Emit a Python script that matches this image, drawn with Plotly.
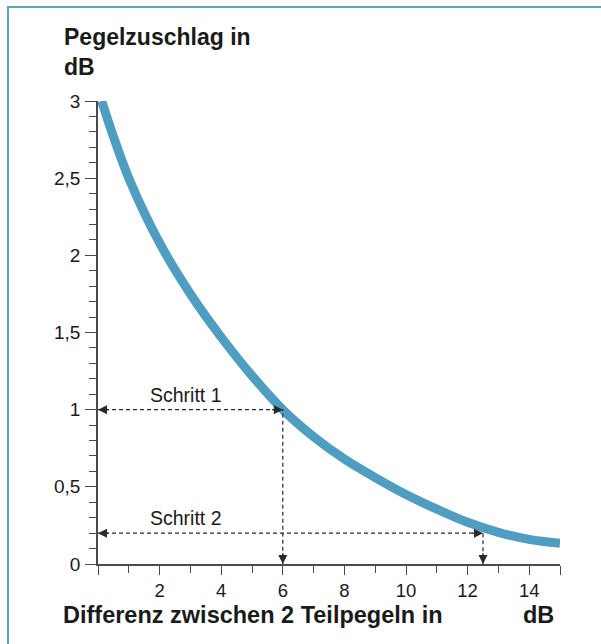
import plotly.graph_objects as go

# Data
diff_db = [0.12, 0.5, 1.0, 2.0, 3.0, 4.0, 5.0, 6.0, 7.0, 8.0, 9.0, 10.0, 11.0, 12.0, 13.0, 14.0, 15.0]
zuschlag_db = [3.0, 2.77, 2.5, 2.08, 1.75, 1.47, 1.22, 1.0, 0.825, 0.68, 0.56, 0.45, 0.355, 0.27, 0.205, 0.16, 0.135]

x_tickvals = [0, 2, 4, 6, 8, 10, 12, 14, 15]
x_ticktext = ["", "2", "4", "6", "8", "10", "12", "14", ""]
y_tickvals = [0, 0.5, 1, 1.5, 2, 2.5, 3]
y_ticktext = ["0", "0,5", "1", "1,5", "2", "2,5", "3"]

step1_x, step1_y = 6, 1.0
step2_x, step2_y = 12.5, 0.2

W, H = 601, 644
ML, MR, MT, MB = 98, 41, 101, 80
PW, PH = W - ML - MR, H - MT - MB

def px(xp):
    return (xp - ML) / PW

def py(yp):
    return (H - MB - yp) / PH

FONT = "Liberation Sans, Arial, sans-serif"
DASH_COL = "#2a2a2a"
TXT = "#1a1a1a"
AX = "#4a4a4a"

fig = go.Figure()

fig.add_trace(go.Scatter(
    x=diff_db, y=zuschlag_db, mode="lines",
    line=dict(color="#4f9dc0", width=9, shape="spline", smoothing=1.0),
    hoverinfo="skip", showlegend=False))

# dashed guide lines
for (gx, gy) in [(step1_x, step1_y), (step2_x, step2_y)]:
    fig.add_trace(go.Scatter(x=[0, gx, gx], y=[gy, gy, 0], mode="lines",
                             line=dict(color=DASH_COL, width=1.2, dash="4px,3px"),
                             hoverinfo="skip", showlegend=False, cliponaxis=False))

annotations = []
def arrow(xt, yt, xa, ya):
    annotations.append(dict(x=xt, y=yt, ax=xa, ay=ya, xref="x", yref="y",
                            axref="x", ayref="y", text="", showarrow=True,
                            arrowhead=2, arrowsize=1.5, arrowwidth=1.2,
                            arrowcolor=DASH_COL, standoff=0))

for (gx, gy) in [(step1_x, step1_y), (step2_x, step2_y)]:
    arrow(0, gy, 0.4, gy)
    arrow(gx, gy, gx - 0.4, gy)
    arrow(gx, 0, gx, 0.08)

annotations.append(dict(x=2.86, y=1.095, xref="x", yref="y", text="Schritt 1",
                        showarrow=False, font=dict(size=19.5, color=TXT, family=FONT)))
annotations.append(dict(x=2.86, y=0.298, xref="x", yref="y", text="Schritt 2",
                        showarrow=False, font=dict(size=19.5, color=TXT, family=FONT)))

annotations.append(dict(x=px(62), y=py(22), xref="paper", yref="paper",
                        xanchor="left", yanchor="top", align="left",
                        text="<b>Pegelzuschlag in</b><br><b>dB</b>", showarrow=False,
                        font=dict(size=23, color=TXT, family=FONT)))
annotations.append(dict(x=px(61), y=py(615), xref="paper", yref="paper",
                        xanchor="left", yanchor="middle",
                        text="<b>Differenz zwischen 2 Teilpegeln in</b>", showarrow=False,
                        font=dict(size=23.5, color=TXT, family=FONT)))
annotations.append(dict(x=px(521), y=py(615), xref="paper", yref="paper",
                        xanchor="left", yanchor="middle",
                        text="<b>dB</b>", showarrow=False,
                        font=dict(size=23.5, color=TXT, family=FONT)))

BORDER = "#5ea3b7"
shapes = [
    dict(type="line", xref="paper", yref="paper", x0=px(7), x1=px(W + 5), y0=py(7), y1=py(7),
         line=dict(color=BORDER, width=2)),
    dict(type="line", xref="paper", yref="paper", x0=px(8), x1=px(8), y0=py(6), y1=py(H + 5),
         line=dict(color=BORDER, width=2)),
]

fig.update_layout(
    width=W, height=H,
    margin=dict(l=ML, r=MR, t=MT, b=MB, pad=0),
    paper_bgcolor="white", plot_bgcolor="white",
    font=dict(family=FONT, size=19, color=TXT),
    annotations=annotations, shapes=shapes,
    showlegend=False,
    xaxis=dict(range=[0, 15], tickvals=x_tickvals, ticktext=x_ticktext,
               ticks="outside", ticklen=9, tickwidth=1.2, tickcolor=AX,
               showline=True, linecolor=AX, linewidth=1.5, showgrid=False,
               zeroline=False, tickfont=dict(size=18.5), ticklabelstandoff=0,
               minor=dict(dtick=1, tick0=0, ticks="outside", ticklen=7, tickcolor=AX, tickwidth=1.2, showgrid=False)),
    yaxis=dict(range=[0, 3], tickvals=y_tickvals, ticktext=y_ticktext,
               ticks="outside", ticklen=11, tickwidth=1.2, tickcolor=AX,
               showline=True, linecolor=AX, linewidth=1.5, showgrid=False,
               zeroline=False, tickfont=dict(size=19), ticklabelstandoff=1,
               minor=dict(dtick=0.1, tick0=0, ticks="outside", ticklen=7, tickcolor=AX, tickwidth=1.2, showgrid=False)),
)

fig.write_html("out.html", config={"displayModeBar": False},
               post_script="document.body.style.margin='0';")
